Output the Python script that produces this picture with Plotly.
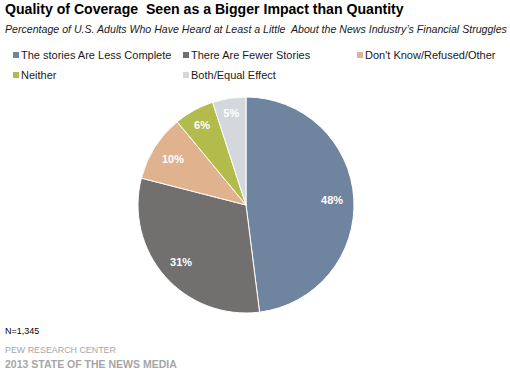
import plotly.graph_objects as go

categories = ["The stories Are Less Complete", "There Are Fewer Stories",
              "Don't Know/Refused/Other", "Neither", "Both/Equal Effect"]
values = [48, 31, 10, 6, 5]
colors = ["#6f849e", "#726f6f", "#e0b38e", "#b3bb4a", "#d4d7dc"]

W, H = 510, 375
dom = dict(x=[138 / W, 354 / W], y=[(H - 313) / H, (H - 97) / H])
font = "Liberation Sans, Arial, sans-serif"

fig = go.Figure()
fig.add_trace(go.Pie(
    labels=categories, values=values, sort=False, direction="clockwise",
    rotation=0, marker=dict(colors=colors, line=dict(color="white", width=1)),
    textinfo="none", showlegend=False, hoverinfo="label+value", domain=dom,
))
# transparent ring that carries the value labels at ~0.8 of the radius
fig.add_trace(go.Pie(
    labels=categories, values=values, sort=False, direction="clockwise",
    rotation=0, hole=0.6,
    marker=dict(colors=["rgba(0,0,0,0)"] * len(values), line=dict(width=0)),
    texttemplate="<b>%{value}%</b>", textposition="inside", insidetextorientation="horizontal",
    textfont=dict(family=font, size=11, color="white"),
    showlegend=False, hoverinfo="skip", domain=dom,
))

ann = [
    dict(x=3 / W, y=1 - 9 / H, text="<b>Quality of Coverage  Seen as a Bigger Impact than Quantity</b>",
         font=dict(size=14.1, color="#000"), xanchor="left", yanchor="middle"),
    dict(x=3 / W, y=1 - 29 / H, text="<i>Percentage of U.S. Adults Who Have Heard at Least a Little  About the News Industry\u2019s Financial Struggles</i>",
         font=dict(size=10.6, color="#1a1a1a"), xanchor="left", yanchor="middle"),
    dict(x=3 / W, y=1 - 331 / H, text="N=1,345", font=dict(size=9, color="#000"),
         xanchor="left", yanchor="middle"),
    dict(x=3 / W, y=1 - 350 / H, text="PEW RESEARCH CENTER", font=dict(size=8.9, color="#a6a6a6"),
         xanchor="left", yanchor="middle"),
    dict(x=3 / W, y=1 - 364 / H, text="<b>2013 STATE OF THE NEWS MEDIA</b>", font=dict(size=10.5, color="#a6a6a6"),
         xanchor="left", yanchor="middle"),
]
shapes = []
legend_pos = [(13, 55), (183, 55), (357, 55), (13, 75), (183, 75)]
for (lx, ly), name, c in zip(legend_pos, categories, colors):
    shapes.append(dict(type="rect", xref="paper", yref="paper",
                       x0=lx / W, x1=(lx + 6) / W, y0=1 - (ly + 3) / H, y1=1 - (ly - 3) / H,
                       fillcolor=c, line=dict(width=0)))
    ann.append(dict(x=(lx + 6) / W, y=1 - ly / H, text=name, font=dict(size=11, color="#1a1a1a"),
                    xanchor="left", yanchor="middle"))
for a in ann:
    a.update(xref="paper", yref="paper", showarrow=False)
    a["font"]["family"] = font

fig.update_layout(width=W, height=H, margin=dict(l=0, r=0, t=0, b=0),
                  paper_bgcolor="white", plot_bgcolor="white",
                  annotations=ann, shapes=shapes, font=dict(family=font))
fig.write_html("out.html", config={"displayModeBar": False},
               post_script="document.body.style.margin='0';")
